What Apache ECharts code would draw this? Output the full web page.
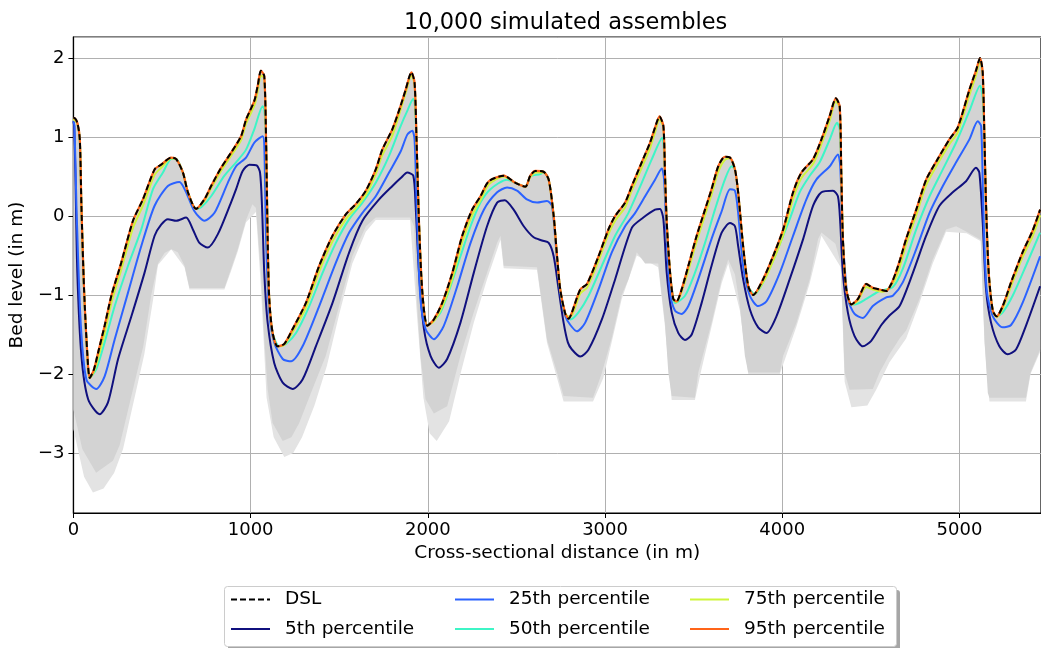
<!DOCTYPE html>
<html>
<head>
    <meta charset="utf-8" />
    <title>10,000 simulated assembles</title>
    <script src="https://cdn.jsdelivr.net/npm/echarts@6/dist/echarts.min.js"></script>
    <style>
        html, body { margin: 0; padding: 0; background: #fff; }
        #container { width: 1041px; height: 648px; }
    </style>
</head>
<body>
    <div id="container"></div>
</body>
</html>
<script>
    // values: [distance (m), bed level (m)]
    var dslPts = [[0,1.24],[4,1.24],[22,1.18],[36,0.97],[45,0.13],[60,-0.93],[79,-1.77],[92,-2.05],[116,-1.94],[139,-1.73],[176,-1.39],[214,-1.01],[270,-0.59],[336,-0.06],[392,0.21],[458,0.59],[495,0.65],[552,0.74],[580,0.72],[618,0.55],[646,0.30],[692,0.09],[739,0.21],[777,0.38],[833,0.61],[889,0.80],[946,1.01],[974,1.22],[1021,1.46],[1040,1.65],[1058,1.84],[1077,1.77],[1087,0.97],[1096,-0.29],[1105,-1.05],[1124,-1.48],[1152,-1.65],[1190,-1.62],[1237,-1.43],[1312,-1.10],[1387,-0.63],[1462,-0.25],[1537,0.02],[1593,0.15],[1650,0.32],[1706,0.59],[1743,0.84],[1800,1.10],[1847,1.40],[1875,1.60],[1907,1.82],[1925,1.69],[1936,0.97],[1950,-0.08],[1969,-0.97],[1997,-1.39],[2034,-1.31],[2081,-1.10],[2138,-0.72],[2194,-0.25],[2250,0.08],[2297,0.25],[2344,0.44],[2428,0.51],[2494,0.42],[2550,0.37],[2578,0.51],[2607,0.57],[2653,0.56],[2682,0.46],[2710,0.00],[2729,-0.51],[2747,-0.93],[2776,-1.24],[2795,-1.30],[2813,-1.22],[2860,-0.93],[2898,-0.86],[2963,-0.51],[3019,-0.17],[3057,0.00],[3113,0.17],[3151,0.38],[3207,0.68],[3254,0.93],[3282,1.12],[3307,1.26],[3329,1.14],[3338,0.55],[3348,-0.08],[3367,-0.72],[3385,-1.05],[3404,-1.08],[3432,-0.93],[3470,-0.63],[3517,-0.25],[3564,0.08],[3601,0.34],[3639,0.63],[3676,0.75],[3705,0.74],[3733,0.59],[3751,0.30],[3779,-0.38],[3808,-0.89],[3836,-1.00],[3892,-0.80],[3948,-0.51],[4005,-0.17],[4061,0.30],[4108,0.55],[4174,0.72],[4221,0.97],[4268,1.27],[4302,1.49],[4324,1.39],[4333,0.55],[4342,-0.29],[4361,-0.93],[4390,-1.12],[4427,-1.05],[4474,-0.86],[4511,-0.91],[4549,-0.93],[4587,-0.95],[4615,-0.86],[4640,-0.72],[4665,-0.55],[4699,-0.29],[4756,0.08],[4812,0.46],[4877,0.72],[4943,0.97],[4990,1.12],[5056,1.60],[5093,1.84],[5116,2.00],[5131,1.82],[5141,0.97],[5150,0.13],[5165,-0.72],[5188,-1.20],[5210,-1.27],[5244,-1.14],[5291,-0.84],[5356,-0.46],[5412,-0.19],[5455,0.08]];

    var p5Pts = [[0,1.2],[4,1.14],[11,0.55],[22,-0.72],[45,-1.77],[83,-2.32],[148,-2.51],[195,-2.36],[252,-1.81],[327,-1.27],[401,-0.72],[458,-0.25],[495,-0.11],[533,-0.04],[580,-0.06],[636,-0.02],[674,-0.17],[711,-0.34],[758,-0.40],[815,-0.23],[889,0.17],[918,0.34],[955,0.57],[993,0.65],[1034,0.64],[1053,0.55],[1064,0.13],[1077,-0.72],[1096,-1.35],[1133,-1.86],[1181,-2.11],[1237,-2.19],[1293,-2.07],[1368,-1.65],[1462,-1.10],[1556,-0.46],[1631,-0.06],[1725,0.21],[1800,0.38],[1847,0.48],[1884,0.55],[1918,0.51],[1931,0.13],[1950,-0.72],[1978,-1.43],[2015,-1.77],[2062,-1.92],[2109,-1.81],[2184,-1.35],[2259,-0.72],[2334,-0.13],[2391,0.17],[2434,0.20],[2484,0.08],[2541,-0.13],[2597,-0.27],[2644,-0.31],[2682,-0.34],[2710,-0.51],[2738,-0.93],[2766,-1.35],[2790,-1.60],[2813,-1.69],[2860,-1.78],[2907,-1.69],[2982,-1.31],[3057,-0.80],[3151,-0.15],[3216,-0.02],[3282,0.08],[3310,0.09],[3329,-0.04],[3348,-0.72],[3376,-1.22],[3413,-1.48],[3451,-1.57],[3489,-1.50],[3545,-1.10],[3601,-0.63],[3658,-0.21],[3705,-0.09],[3733,-0.13],[3751,-0.38],[3779,-0.80],[3817,-1.18],[3864,-1.41],[3911,-1.48],[3967,-1.27],[4042,-0.80],[4118,-0.29],[4174,0.13],[4221,0.30],[4286,0.32],[4314,0.25],[4327,-0.08],[4342,-0.72],[4370,-1.22],[4408,-1.52],[4455,-1.65],[4502,-1.58],[4559,-1.38],[4605,-1.26],[4662,-1.14],[4737,-0.72],[4812,-0.25],[4887,0.13],[4962,0.30],[5037,0.44],[5093,0.61],[5112,0.55],[5131,-0.08],[5150,-0.93],[5178,-1.35],[5225,-1.65],[5272,-1.75],[5319,-1.69],[5375,-1.39],[5455,-0.89]];

    var p25Pts = [[0,1.2],[6,1.14],[17,0.13],[41,-1.35],[73,-2.07],[129,-2.19],[176,-2.03],[233,-1.56],[308,-0.97],[383,-0.38],[458,0.13],[533,0.38],[598,0.43],[636,0.30],[683,0.06],[739,-0.06],[796,0.04],[871,0.42],[918,0.63],[974,0.74],[1021,0.93],[1068,1.01],[1077,0.89],[1087,-0.29],[1105,-1.22],[1133,-1.60],[1181,-1.81],[1228,-1.84],[1293,-1.65],[1387,-1.14],[1481,-0.59],[1556,-0.21],[1631,0.04],[1706,0.25],[1781,0.55],[1847,0.82],[1884,1.03],[1912,1.08],[1925,0.97],[1940,-0.08],[1958,-1.05],[1987,-1.43],[2034,-1.56],[2090,-1.39],[2166,-0.89],[2241,-0.34],[2316,0.08],[2391,0.30],[2447,0.36],[2503,0.32],[2559,0.21],[2616,0.17],[2672,0.19],[2700,0.13],[2719,-0.29],[2747,-0.97],[2776,-1.27],[2804,-1.38],[2841,-1.46],[2888,-1.35],[2963,-0.93],[3038,-0.46],[3113,-0.13],[3170,0.04],[3226,0.25],[3282,0.46],[3320,0.60],[3333,0.46],[3348,-0.29],[3367,-0.97],[3395,-1.20],[3432,-1.24],[3470,-1.14],[3526,-0.80],[3601,-0.29],[3658,0.06],[3705,0.34],[3733,0.32],[3751,0.04],[3779,-0.63],[3817,-1.01],[3864,-1.14],[3911,-1.08],[3986,-0.72],[4061,-0.25],[4136,0.21],[4192,0.46],[4268,0.63],[4314,0.78],[4327,0.63],[4342,-0.29],[4370,-1.05],[4408,-1.24],[4455,-1.29],[4511,-1.14],[4587,-1.03],[4624,-1.01],[4680,-0.84],[4756,-0.42],[4831,0.04],[4906,0.38],[4981,0.68],[5056,0.97],[5103,1.20],[5122,1.14],[5134,0.13],[5153,-0.93],[5188,-1.27],[5244,-1.41],[5291,-1.38],[5356,-1.10],[5455,-0.51]];

    var p50Pts = [[0,1.22],[4,1.22],[22,1.17],[36,0.96],[45,0.12],[60,-0.94],[79,-1.78],[92,-2.05],[129,-1.94],[176,-1.60],[233,-1.14],[308,-0.63],[383,-0.17],[449,0.34],[505,0.55],[552,0.72],[580,0.72],[618,0.55],[646,0.30],[692,0.09],[721,0.11],[777,0.25],[852,0.51],[918,0.68],[974,0.84],[1021,1.10],[1068,1.39],[1077,1.35],[1087,0.97],[1096,-0.29],[1105,-1.05],[1124,-1.48],[1161,-1.65],[1199,-1.62],[1256,-1.48],[1331,-1.14],[1406,-0.72],[1481,-0.34],[1556,-0.04],[1631,0.17],[1706,0.42],[1781,0.76],[1847,1.14],[1884,1.33],[1918,1.48],[1925,1.45],[1936,0.97],[1950,-0.08],[1969,-0.97],[1997,-1.38],[2025,-1.34],[2072,-1.22],[2128,-0.89],[2184,-0.51],[2241,-0.13],[2297,0.17],[2353,0.34],[2447,0.46],[2494,0.42],[2550,0.37],[2578,0.50],[2634,0.53],[2653,0.56],[2682,0.46],[2710,0.00],[2729,-0.51],[2747,-0.93],[2776,-1.24],[2804,-1.31],[2850,-1.22],[2907,-1.01],[2982,-0.63],[3057,-0.25],[3132,0.04],[3207,0.42],[3264,0.72],[3323,0.99],[3333,0.80],[3338,0.55],[3348,-0.08],[3367,-0.72],[3385,-1.05],[3395,-1.10],[3451,-1.01],[3507,-0.72],[3564,-0.34],[3620,0.08],[3676,0.46],[3714,0.63],[3733,0.59],[3751,0.30],[3779,-0.38],[3808,-0.89],[3845,-0.99],[3892,-0.84],[3967,-0.46],[4042,-0.04],[4098,0.30],[4155,0.51],[4211,0.68],[4268,0.97],[4309,1.18],[4324,1.10],[4333,0.55],[4342,-0.29],[4361,-0.93],[4390,-1.12],[4408,-1.12],[4474,-1.05],[4549,-0.95],[4624,-0.90],[4680,-0.67],[4756,-0.17],[4831,0.25],[4906,0.59],[4981,0.93],[5056,1.33],[5116,1.65],[5131,1.50],[5141,0.97],[5150,0.13],[5165,-0.72],[5188,-1.20],[5210,-1.27],[5244,-1.22],[5300,-1.01],[5375,-0.63],[5455,-0.21]];

    var p75Pts = [[0,1.23],[4,1.22],[22,1.17],[36,0.96],[45,0.12],[60,-0.94],[79,-1.78],[92,-2.05],[116,-1.97],[139,-1.80],[176,-1.48],[214,-1.10],[270,-0.68],[336,-0.15],[392,0.13],[458,0.52],[495,0.61],[552,0.73],[580,0.72],[618,0.55],[646,0.30],[692,0.09],[739,0.19],[777,0.35],[833,0.57],[889,0.76],[946,0.96],[974,1.17],[1021,1.40],[1040,1.58],[1058,1.78],[1077,1.74],[1087,0.97],[1096,-0.29],[1105,-1.05],[1124,-1.48],[1152,-1.65],[1190,-1.63],[1237,-1.47],[1312,-1.16],[1387,-0.70],[1462,-0.32],[1537,-0.04],[1593,0.10],[1650,0.27],[1706,0.53],[1743,0.77],[1800,1.02],[1875,1.56],[1907,1.78],[1925,1.67],[1936,0.97],[1950,-0.08],[1969,-0.97],[1997,-1.39],[2034,-1.33],[2081,-1.15],[2138,-0.79],[2194,-0.33],[2250,0.01],[2297,0.20],[2344,0.40],[2428,0.50],[2494,0.42],[2550,0.37],[2578,0.49],[2607,0.55],[2653,0.55],[2682,0.46],[2710,0.00],[2729,-0.51],[2747,-0.93],[2776,-1.24],[2804,-1.28],[2860,-0.98],[2898,-0.91],[2963,-0.57],[3019,-0.23],[3057,-0.06],[3113,0.11],[3151,0.32],[3207,0.61],[3254,0.86],[3282,1.06],[3307,1.22],[3329,1.12],[3338,0.55],[3348,-0.08],[3367,-0.72],[3385,-1.05],[3404,-1.09],[3432,-0.96],[3470,-0.69],[3517,-0.32],[3564,0.01],[3601,0.27],[3639,0.56],[3676,0.71],[3705,0.73],[3733,0.59],[3751,0.30],[3779,-0.38],[3808,-0.89],[3836,-1.00],[3892,-0.84],[3948,-0.57],[4005,-0.24],[4061,0.22],[4108,0.48],[4174,0.66],[4221,0.91],[4268,1.21],[4302,1.45],[4324,1.37],[4333,0.55],[4342,-0.29],[4361,-0.93],[4390,-1.12],[4427,-1.07],[4474,-0.90],[4511,-0.93],[4568,-0.96],[4615,-0.88],[4652,-0.72],[4699,-0.36],[4756,0.01],[4812,0.39],[4877,0.66],[4943,0.91],[4990,1.06],[5056,1.53],[5093,1.78],[5116,1.96],[5131,1.80],[5141,0.97],[5150,0.13],[5165,-0.72],[5188,-1.20],[5210,-1.28],[5244,-1.17],[5291,-0.89],[5356,-0.52],[5412,-0.26],[5455,0.01]];

    // the orange 95th line sits right under the dashed DSL everywhere
    var p95Pts = dslPts;

    // bottom of the dense grey cloud of simulated profiles
    var cloudLow = [[0,-2.45],[50,-2.95],[128,-3.25],[223,-3.1],[261,-2.9],[298,-2.55],[394,-1.65],[439,-1.0],[477,-0.6],[514,-0.47],[552,-0.42],[589,-0.46],[627,-0.63],[655,-0.91],[852,-0.91],[889,-0.67],[927,-0.42],[974,-0.05],[1010,0.15],[1030,0.1],[1058,-0.72],[1077,-1.56],[1096,-2.19],[1124,-2.62],[1181,-2.85],[1230,-2.8],[1274,-2.62],[1349,-2.19],[1424,-1.77],[1499,-1.14],[1574,-0.51],[1650,-0.13],[1706,-0.02],[1900,-0.02],[1922,-0.13],[1940,-1.14],[1958,-1.77],[1987,-2.32],[2034,-2.5],[2109,-2.41],[2184,-1.77],[2259,-1.22],[2334,-0.72],[2391,-0.34],[2410,-0.25],[2428,-0.63],[2616,-0.65],[2672,-1.56],[2729,-1.98],[2766,-2.28],[2932,-2.30],[2980,-2.0],[3037,-1.55],[3094,-1.0],[3132,-0.8],[3179,-0.46],[3226,-0.6],[3300,-0.6],[3338,-1.35],[3357,-1.98],[3376,-2.28],[3507,-2.30],[3526,-1.98],[3601,-1.35],[3658,-0.80],[3695,-0.55],[3733,-0.74],[3761,-1.14],[3789,-1.77],[3808,-1.98],[3986,-1.98],[4005,-1.77],[4080,-1.35],[4155,-0.80],[4202,-0.29],[4221,-0.21],[4300,-0.35],[4330,-0.6],[4352,-1.98],[4380,-2.2],[4511,-2.19],[4549,-1.98],[4605,-1.75],[4662,-1.55],[4699,-1.45],[4774,-1.05],[4849,-0.55],[4924,-0.17],[4981,-0.13],[5040,-0.2],[5120,-0.3],[5141,-1.56],[5160,-2.24],[5169,-2.30],[5375,-2.30],[5401,-1.98],[5455,-1.69]];

    // sparse lighter tails below the cloud
    var tailLow = [[0,-2.7],[60,-3.3],[110,-3.5],[170,-3.45],[230,-3.25],[280,-2.95],[330,-2.45],[400,-1.75],[450,-1.05],[477,-0.62],[552,-0.42],[627,-0.65],[655,-0.93],[852,-0.93],[889,-0.7],[927,-0.45],[974,-0.08],[1030,0.05],[1058,-0.9],[1090,-2.3],[1130,-2.8],[1190,-3.05],[1240,-3.0],[1290,-2.8],[1360,-2.4],[1430,-1.9],[1499,-1.25],[1574,-0.6],[1650,-0.2],[1706,-0.05],[1900,-0.05],[1940,-1.3],[1975,-2.3],[2010,-2.75],[2050,-2.85],[2120,-2.6],[2184,-2.0],[2259,-1.35],[2334,-0.8],[2410,-0.3],[2428,-0.66],[2616,-0.68],[2672,-1.6],[2729,-2.05],[2766,-2.35],[2932,-2.35],[2990,-2.05],[3037,-1.6],[3094,-1.05],[3179,-0.5],[3300,-0.65],[3338,-1.4],[3376,-2.33],[3507,-2.33],[3540,-1.98],[3601,-1.4],[3658,-0.85],[3695,-0.6],[3761,-1.2],[3808,-2.0],[3986,-2.0],[4080,-1.4],[4155,-0.85],[4221,-0.25],[4330,-0.65],[4352,-2.1],[4390,-2.42],[4480,-2.4],[4530,-2.2],[4605,-1.85],[4699,-1.55],[4774,-1.1],[4849,-0.6],[4924,-0.2],[5040,-0.22],[5120,-0.32],[5141,-1.6],[5169,-2.35],[5375,-2.35],[5401,-2.0],[5455,-1.72]];

    var xTicks = [0, 1000, 2000, 3000, 4000, 5000];
    var font = 'DejaVu Sans';

    var dom = document.getElementById('container');
    var myChart = echarts.init(dom, null, { renderer: 'canvas' });

    // grey band between the DSL and a lower outline, drawn as one polygon
    function band(upper, lower, color, z) {
        return {
            type: 'custom',
            silent: true,
            clip: true,
            z: z,
            data: [[0, 0]],
            renderItem: function (params, api) {
                var pts = upper.map(function (p) { return api.coord(p); });
                lower.slice().reverse().forEach(function (p) { pts.push(api.coord(p)); });
                return { type: 'polygon', shape: { points: pts }, style: { fill: color } };
            }
        };
    }

    function line(name, pts, color, width, dash) {
        return {
            name: name,
            type: 'line',
            data: pts,
            symbol: 'none',
            showSymbol: false,
            smooth: 0.25,
            silent: true,
            z: 3,
            color: color,
            lineStyle: { color: color, width: width, type: dash || 'solid' }
        };
    }

    var dashIcon = 'path://M0,0h6v2h-6z M9,0h6v2h-6z M18,0h6v2h-6z M27,0h6v2h-6z M36,0h3v2h-3z';
    var legendText = { fontFamily: font, fontSize: 18.5, color: '#000', padding: [0, 0, 0, 10] };
    function legendCol(left, items) {
        return {
            left: left, top: 590, orient: 'vertical', padding: 0, itemGap: 10.5,
            itemWidth: 39, itemHeight: 2, textStyle: legendText, selectedMode: false,
            data: items
        };
    }

    option = {
        animation: false,
        backgroundColor: '#fff',
        title: {
            text: '10,000 simulated assembles',
            left: 399, top: 7,
            textStyle: { fontFamily: font, fontSize: 22.5, fontWeight: 'normal', color: '#000' }
        },
        grid: { left: 72, top: 37, right: -2, bottom: 135, show: true, borderColor: '#000', borderWidth: 1.2 },
        xAxis: {
            type: 'value', min: 0, max: 5460, interval: 1000,
            name: 'Cross-sectional distance (in m)', nameLocation: 'middle', nameGap: 30,
            nameTextStyle: { fontFamily: font, fontSize: 18.5, color: '#000' },
            axisLine: { show: true, onZero: false, lineStyle: { color: '#000', width: 1.2 } },
            axisTick: { show: true, length: 5, lineStyle: { color: '#000' } },
            axisLabel: { fontFamily: font, fontSize: 18, color: '#000', margin: 8, showMaxLabel: false,
                formatter: function (v) { return xTicks.indexOf(v) >= 0 ? String(v) : ''; } },
            splitLine: { show: true, lineStyle: { color: '#b0b0b0', width: 1 } }
        },
        yAxis: {
            type: 'value', min: -3.76, max: 2.266,
            name: 'Bed level (in m)', nameLocation: 'middle', nameGap: 45, nameRotate: 90,
            nameTextStyle: { fontFamily: font, fontSize: 18.5, color: '#000' },
            axisLine: { show: true, onZero: false, lineStyle: { color: '#000', width: 1.2 } },
            axisTick: { show: true, length: 5, lineStyle: { color: '#000' } },
            axisLabel: { fontFamily: font, fontSize: 18, color: '#000', margin: 9, showMinLabel: false, showMaxLabel: false,
                formatter: function (v) { return v < 0 ? '\u2212' + Math.abs(v) : String(v); } },
            splitLine: { show: true, lineStyle: { color: '#b0b0b0', width: 1 } }
        },
        legend: [
            legendCol(231, [{ name: 'DSL', icon: dashIcon }, { name: '5th percentile', icon: 'rect' }]),
            legendCol(455, [{ name: '25th percentile', icon: 'rect' }, { name: '50th percentile', icon: 'rect' }]),
            legendCol(690, [{ name: '75th percentile', icon: 'rect' }, { name: '95th percentile', icon: 'rect' }])
        ],
        graphic: [
            { type: 'rect', z: 0, shape: { x: 228, y: 590, width: 672, height: 60, r: 3 }, style: { fill: 'rgba(0,0,0,0.35)' } },
            { type: 'rect', z: 1, shape: { x: 224.5, y: 586.5, width: 672, height: 60, r: 3 }, style: { fill: '#fff', stroke: '#cccccc', lineWidth: 1 } }
        ],
        series: [
            band(dslPts, tailLow, '#e3e3e3', 1),
            band(dslPts, cloudLow, '#d3d3d3', 1),
            line('5th percentile', p5Pts, '#10107e', 2),
            line('25th percentile', p25Pts, '#2b62ff', 2),
            line('50th percentile', p50Pts, '#3ef5c6', 2),
            line('75th percentile', p75Pts, '#cff53a', 2),
            line('95th percentile', p95Pts, '#ff6419', 2.2),
            line('DSL', dslPts, '#000000', 2, [6, 3])
        ]
    };

    myChart.setOption(option);
</script>
